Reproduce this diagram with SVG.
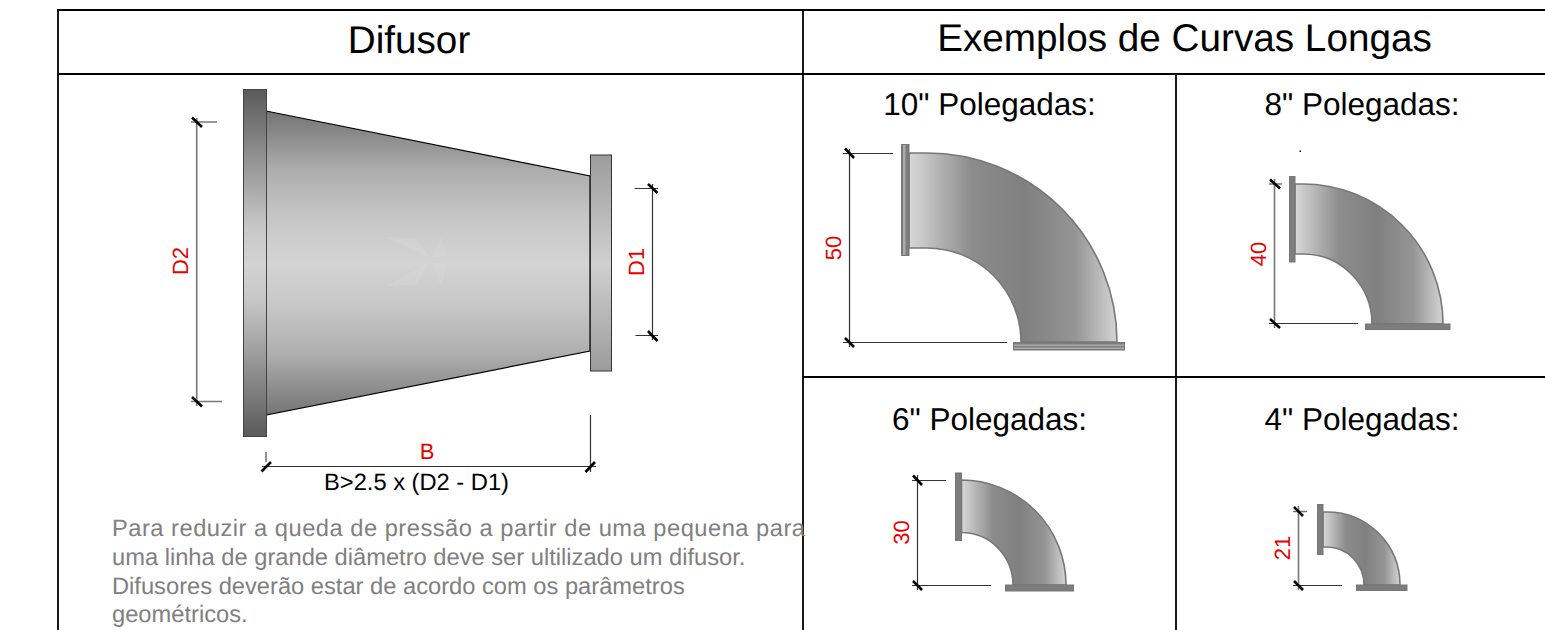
<svg xmlns="http://www.w3.org/2000/svg" width="1545" height="630" viewBox="0 0 1545 630">
<style>
text{font-family:"Liberation Sans",Arial,sans-serif;text-rendering:geometricPrecision}
.t{font-size:38.7px;fill:#000;text-anchor:middle}
.s{font-size:31.5px;fill:#000;text-anchor:middle}
.r{font-size:22px;fill:#e60000;text-anchor:middle}
.p{font-size:23.7px;fill:#808080}
.g{stroke:#000;stroke-width:1.8;fill:none}
.d{stroke:#333;stroke-width:1.2;fill:none}
.k{stroke:#000;stroke-width:2.6;fill:none}
.e{stroke:#777;stroke-width:1.6;fill:none}
.fl{fill:#7d7d7d;stroke:#777;stroke-width:1}
</style>
<defs>
<linearGradient id="cone" x1="0" y1="0" x2="0" y2="1"><stop offset="0" stop-color="#747474"/><stop offset=".2" stop-color="#aeaeae"/><stop offset=".35" stop-color="#c6c6c6"/><stop offset=".5" stop-color="#d4d4d4"/><stop offset=".65" stop-color="#c6c6c6"/><stop offset=".8" stop-color="#aeaeae"/><stop offset="1" stop-color="#747474"/></linearGradient>
<linearGradient id="fa" x1="0" y1="0" x2="0" y2="1"><stop offset="0" stop-color="#5a5a5a"/><stop offset=".25" stop-color="#a0a0a0"/><stop offset=".4" stop-color="#c8c8c8"/><stop offset=".5" stop-color="#d2d2d2"/><stop offset=".6" stop-color="#c8c8c8"/><stop offset=".75" stop-color="#a0a0a0"/><stop offset="1" stop-color="#5a5a5a"/></linearGradient>
<linearGradient id="fb" x1="0" y1="0" x2="0" y2="1"><stop offset="0" stop-color="#9c9c9c"/><stop offset=".5" stop-color="#d0d0d0"/><stop offset="1" stop-color="#9c9c9c"/></linearGradient>
<linearGradient id="pipe" x1="0" y1="0" x2="1" y2="0"><stop offset="0" stop-color="#d8d8d8"/><stop offset=".3" stop-color="#8c8c8c"/><stop offset=".55" stop-color="#808080"/><stop offset=".8" stop-color="#959595"/><stop offset="1" stop-color="#d4d4d4"/></linearGradient>
</defs>
<rect width="1545" height="630" fill="#fff"/>
<g id="table" class="g">
<path d="M58 630V10H1545M58 74H1545M803 10V630M1176 74V630M803 377H1545"/>
</g>
<g id="titles">
<text class="t" x="409" y="53">Difusor</text>
<text class="t" x="1184.500" y="51">Exemplos de Curvas Longas</text>
<text class="s" x="989.500" y="115">10" Polegadas:</text>
<text class="s" x="1362" y="115">8" Polegadas:</text>
<text class="s" x="989.500" y="430">6" Polegadas:</text>
<text class="s" x="1362" y="430">4" Polegadas:</text>
</g>
<g id="difusor">
<path d="M266 111L590 176V351L266 415Z" fill="url(#cone)" stroke="#000" stroke-width="1.2"/>
<path d="M386 237L416 238L430 258ZM386 286L416 285L429 262ZM441 237L447 255L433 258ZM441 287L447 265L433 262Z" fill="#dadada" opacity=".3"/>
<rect x="243.500" y="89.500" width="23" height="347" fill="url(#fa)" stroke="#444" stroke-width="1"/>
<rect x="590.500" y="155" width="21" height="216" fill="url(#fb)" stroke="#333" stroke-width="1"/>
</g>
<g id="cotas-difusor">
<path class="e" d="M191 122H217M196.700 118V406M191 401.500H222M266 452V462"/>
<path class="d" d="M634.500 188.500H658M635.500 335.500H658M652.500 184V340M262 466.500H596M590.500 415V472"/>
<path class="k" d="M192 117.500L202 127M192 397L202 406.500M648 184L657.500 193M648 331L657.500 341M261.500 471.500L271 462M585.500 472L595 462"/>
<text class="r" transform="translate(188 261) rotate(-90)">D2</text>
<text class="r" transform="translate(644 262) rotate(-90)">D1</text>
<text class="r" x="427" y="459">B</text>
<text x="416.500" y="490" font-size="23.700" text-anchor="middle">B&gt;2.5 x (D2 - D1)</text>
</g>
<g id="descricao">
<text class="p" x="112" y="536" textLength="693">Para reduzir a queda de pressão a partir de uma pequena para</text>
<text class="p" x="112" y="565">uma linha de grande diâmetro deve ser ultilizado um difusor.</text>
<text class="p" x="112" y="594">Difusores deverão estar de acordo com os parâmetros</text>
<text class="p" x="112" y="622">geométricos.</text>
</g>
<g id="curva10">
<path d="M909 153H927A190 189 0 0 1 1117 342H1021A94 94 0 0 0 927 248H909Z" fill="url(#pipe)" stroke="#777" stroke-width="1.6"/>
<rect class="fl" x="901.500" y="144.500" width="7.500" height="111"/>
<rect x="903" y="145" width="2.500" height="110" fill="#aaa"/>
<rect class="fl" x="1013.500" y="342.500" width="111" height="7.500"/>
<rect x="1014" y="344.500" width="110" height="1.500" fill="#aaa"/>
<rect x="1014" y="347.500" width="110" height="1.500" fill="#aaa"/>
<path class="d" d="M843 153.500H893M849.500 149V347M843 342.500H1007"/>
<path class="k" d="M845 148.500L854 158M845 338L854 347"/>
<text class="r" transform="translate(841 248) rotate(-90)">50</text>
</g>
<g id="curva8">
<path d="M1295 184H1303A140 140 0 0 1 1443 324H1372A69 70 0 0 0 1303 254H1295Z" fill="url(#pipe)" stroke="#777" stroke-width="1.6"/>
<rect class="fl" x="1289.500" y="176.500" width="5.500" height="85.500"/>
<rect class="fl" x="1365.500" y="324" width="84.500" height="5.500"/>
<path class="e" d="M1269 184H1282M1274.500 179V328"/>
<path class="d" d="M1269 323.500H1358"/>
<path class="k" d="M1270 179.500L1280 188.500M1270 319L1280 328"/>
<rect x="1299.500" y="150.500" width="1.500" height="1.500" fill="#000"/>
<text class="r" transform="translate(1266 254) rotate(-90)">40</text>
</g>
<g id="curva6">
<path d="M961.500 480A104.500 105 0 0 1 1066 585H1013A51.500 52.500 0 0 0 961.500 532.500Z" fill="url(#pipe)" stroke="#777" stroke-width="1.6"/>
<rect class="fl" x="955.500" y="473" width="6" height="67.500"/>
<rect class="fl" x="1005.500" y="585" width="68" height="6"/>
<path class="d" d="M912 480.500H946M917.500 475V590M912 585.500H991"/>
<path class="k" d="M913 475.500L922 485M913 581L922 590"/>
<text class="r" transform="translate(908.500 532.500) rotate(-90)">30</text>
</g>
<g id="curva4">
<path d="M1323 512H1327A73 73 0 0 1 1400 585H1364A37 38 0 0 0 1327 547H1323Z" fill="url(#pipe)" stroke="#777" stroke-width="1.6"/>
<rect class="fl" x="1317.500" y="504.500" width="5.500" height="50"/>
<rect class="fl" x="1356.500" y="585" width="50.500" height="5.500"/>
<path class="e" d="M1293 511.500H1307M1298.500 506V590"/>
<path class="d" d="M1293 585.500H1342"/>
<path class="k" d="M1294 507L1303 516M1294 581L1303 590"/>
<text class="r" transform="translate(1290 548) rotate(-90)">21</text>
</g>
</svg>
